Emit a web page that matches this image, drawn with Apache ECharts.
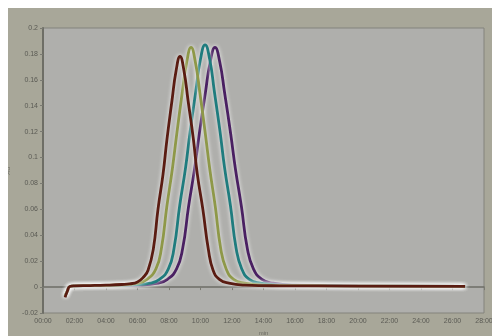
<!DOCTYPE html>
<html>
<head>
<meta charset="utf-8">
<script src="https://cdn.jsdelivr.net/npm/echarts@6/dist/echarts.min.js"></script>
<style>
html,body{margin:0;padding:0;background:#fff;}
#main{position:absolute;left:8px;top:8px;width:484px;height:328px;background:#a8a799;}
</style>
</head>
<body>
<div id="main"></div>
<script>
// tick labels (x in minutes, every 2)
var xTicks = ['00:00','02:00','04:00','06:00','08:00','10:00','12:00','14:00','16:00','18:00','20:00','22:00','24:00','26:00','28:00'];
var yTicks = ['-0.02','0','0.02','0.04','0.06','0.08','0.1','0.12','0.14','0.16','0.18','0.2'];

// [time(min), absorbance]
var run1 = [[1.4,-0.008],[1.55,-0.003],[1.7,0.0005],[2.0,0.001],[3,0.0012],[4,0.0015],[5,0.002],[5.5,0.0025],[6.0,0.004],[6.4,0.008],
	[6.67,0.013],[7.0,0.029],[7.3,0.060],[7.62,0.087],[7.87,0.114],[8.19,0.144],[8.45,0.167],[8.7,0.178],[8.95,0.167],[9.21,0.144],
	[9.55,0.114],[9.8,0.087],[10.15,0.060],[10.5,0.029],[10.8,0.013],[11.2,0.006],[11.8,0.003],[12.8,0.0015],[15,0.001],[20,0.0008],[26.8,0.0005]];
var run2 = [[1.4,-0.007],[1.55,-0.003],[1.7,0.0005],[2.0,0.001],[3,0.0012],[4,0.0014],[5,0.0018],[6.0,0.003],[6.6,0.006],
	[7.17,0.014],[7.52,0.030],[7.86,0.062],[8.21,0.091],[8.49,0.118],[8.84,0.150],[9.13,0.174],[9.40,0.185],[9.67,0.174],[9.96,0.150],
	[10.31,0.118],[10.59,0.091],[10.94,0.062],[11.28,0.030],[11.63,0.014],[12.1,0.006],[12.8,0.003],[14,0.0015],[18,0.001],[26.8,0.0006]];
var run3 = [[1.4,-0.007],[1.55,-0.003],[1.7,0.0005],[2.0,0.001],[3,0.0012],[4,0.0013],[5,0.0015],[6.0,0.002],[6.8,0.003],[7.4,0.006],
	[7.96,0.014],[8.32,0.030],[8.68,0.063],[9.05,0.092],[9.34,0.120],[9.70,0.151],[10.0,0.176],[10.29,0.187],[10.58,0.176],[10.88,0.151],
	[11.24,0.120],[11.53,0.092],[11.90,0.063],[12.26,0.030],[12.62,0.014],[13.1,0.006],[13.8,0.003],[15,0.0015],[19,0.001],[26.8,0.0006]];
var run4 = [[1.4,-0.007],[1.55,-0.003],[1.7,0.0005],[2.0,0.001],[3,0.0011],[4,0.0012],[5,0.0013],[6.0,0.0015],[7.3,0.003],[7.9,0.006],
	[8.48,0.014],[8.87,0.030],[9.24,0.062],[9.62,0.091],[9.92,0.118],[10.31,0.150],[10.62,0.174],[10.92,0.185],[11.22,0.174],[11.53,0.150],
	[11.92,0.118],[12.22,0.091],[12.60,0.062],[12.97,0.030],[13.36,0.014],[13.9,0.006],[14.6,0.003],[16,0.0015],[20,0.001],[26.8,0.0006]];

var names = ['run1','run2','run3','run4'];
var runs = [run1, run2, run3, run4];
var colors = ['#5a1c12','#8e9848','#1f7c7e','#4a2062'];

var chart = echarts.init(document.getElementById('main'));
var series = [];
// draw last run first so run1 (brown) ends up on top
for (var i = runs.length - 1; i >= 0; i--) {
	series.push({
		name: names[i],
		type: 'line',
		data: runs[i],
		smooth: true,
		symbol: 'none',
		lineStyle: {
			color: colors[i],
			width: 2.8,
			shadowColor: 'rgba(255,255,255,0.9)',
			shadowBlur: 4
		}
	});
}
chart.setOption({
	animation: false,
	grid: {
		show: true,
		left: 35,
		right: 8,
		top: 20,
		bottom: 23,
		outerBoundsMode: 'none',
		containLabel: false,
		backgroundColor: '#afafac',
		borderColor: '#83837c',
		borderWidth: 1
	},
	xAxis: {
		type: 'value',
		min: 0,
		max: 28,
		interval: 2,
		name: 'min',
		nameLocation: 'middle',
		nameGap: 15,
		nameTextStyle: {fontSize: 6, color: '#6a6a62'},
		splitLine: {show: false},
		axisLine: {lineStyle: {color: '#6e6e66', width: 1.5}},
		axisTick: {length: 3, lineStyle: {color: '#7a7a72'}},
		axisLabel: {
			fontSize: 7,
			color: '#5a5a54',
			margin: 5,
			formatter: function (value) {
				return xTicks[Math.round(value / 2)];
			}
		}
	},
	yAxis: {
		type: 'value',
		min: -0.02,
		max: 0.2,
		interval: 0.02,
		name: 'AU',
		nameLocation: 'middle',
		nameGap: 31,
		nameTextStyle: {fontSize: 6, color: '#6a6a62'},
		splitLine: {show: false},
		axisLine: {show: true, lineStyle: {color: '#6e6e66', width: 2}},
		axisTick: {show: true, length: 3, lineStyle: {color: '#7a7a72'}},
		axisLabel: {
			fontSize: 7,
			color: '#5a5a54',
			margin: 5,
			formatter: function (value) {
				return yTicks[Math.round((value + 0.02) / 0.02)];
			}
		}
	},
	series: series
});
</script>
</body>
</html>
